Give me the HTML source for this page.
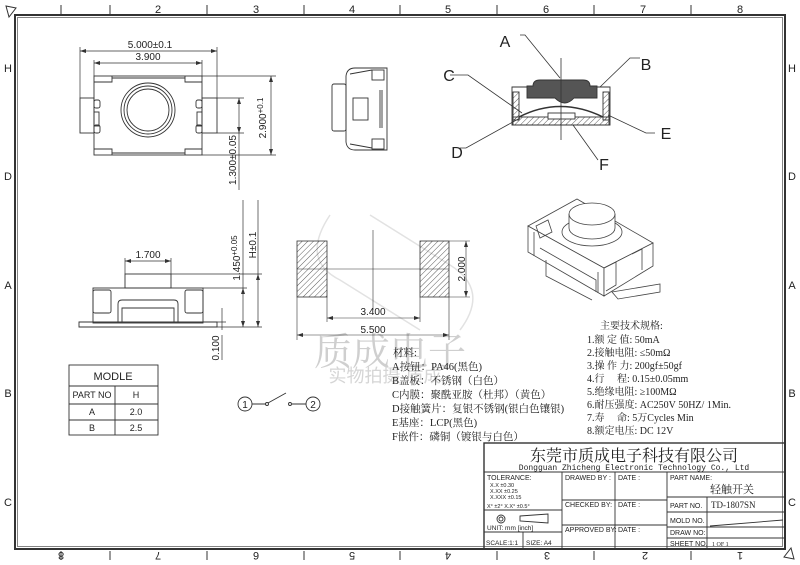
<!DOCTYPE html>
<html><head><meta charset="utf-8"><style>
html,body{margin:0;padding:0;background:#fff}
svg{display:block}
text{font-family:"Liberation Sans","Noto Sans CJK SC",sans-serif;fill:#222}
.s{font-family:"Liberation Serif","Noto Serif CJK SC",serif}
</style></head><body>
<svg width="800" height="565" viewBox="0 0 800 565" xmlns="http://www.w3.org/2000/svg">
<g stroke="#333" fill="none" stroke-width="1">
<rect x="15" y="15" width="770" height="534" stroke-width="2"/>
<rect x="17.5" y="17.5" width="765" height="529" stroke-width="0.6"/>
<g stroke-width="1">
<path d="M61 5V14M110 5V14M207 5V14M304 5V14M400 5V14M497 5V14M594 5V14M691 5V14"/>
<path d="M61 551V560M110 551V560M207 551V560M304 551V560M400 551V560M497 551V560M594 551V560M691 551V560"/>
</g>
<path d="M6 6L16 8L9 17Z"/>
<path d="M794 559L784 557L791 548Z"/>
</g>
<g font-size="11" text-anchor="middle">
<text x="158" y="13">2</text><text x="256" y="13">3</text><text x="352" y="13">4</text><text x="448" y="13">5</text><text x="546" y="13">6</text><text x="643" y="13">7</text><text x="740" y="13">8</text>
<g transform="rotate(180 400 556)"><text x="739" y="560">8</text><text x="642" y="560">7</text><text x="544" y="560">6</text><text x="448" y="560">5</text><text x="352" y="560">4</text><text x="253" y="560">3</text><text x="155" y="560">2</text><text x="60" y="560">1</text></g>
<text x="8" y="72">H</text><text x="8" y="180">D</text><text x="8" y="289">A</text><text x="8" y="397">B</text><text x="8" y="506">C</text>
<text x="792" y="72">H</text><text x="792" y="180">D</text><text x="792" y="289">A</text><text x="792" y="397">B</text><text x="792" y="506">C</text>
</g>

<g fill="none" stroke="#e2e2e2" stroke-width="1.5">
<path d="M330 215 Q300 260 340 280 L420 330"/><path d="M370 215 L450 265 Q490 290 460 330"/>
</g>
<text x="390" y="365" font-size="38" text-anchor="middle" style="fill:#cfcfcf" class="s">质成电子</text>
<text x="385" y="382" font-size="18" text-anchor="middle" style="fill:#d5d5d5">实物拍摄  质成</text>

<g stroke="#333" fill="none" stroke-width="0.9">
<rect x="94" y="76" width="108" height="79"/>
<rect x="80" y="98" width="14" height="35"/><rect x="202" y="98" width="15" height="35"/>
<path d="M94 82H112V76M185 76V82H202M94 149H112V155M185 155V149H202"/>
<path d="M112 78H185M112 153H185"/>
<rect x="94" y="100" width="6" height="8" rx="2"/><rect x="94" y="112" width="5" height="14"/><rect x="94" y="125" width="6" height="8" rx="2"/>
<rect x="196" y="100" width="6" height="8" rx="2"/><rect x="197" y="112" width="5" height="14"/><rect x="196" y="125" width="6" height="8" rx="2"/>
<circle cx="148" cy="110" r="27"/><circle cx="148" cy="110" r="24"/><circle cx="148" cy="110" r="21"/>
<path d="M80 98V47M217 98V47M80 51H217M94 76V60M202 76V60M94 63H202" stroke-width="0.7"/>
<path d="M202 76H276M217 98H244M202 155H276M217 133H244M271 76V155M239 98V190" stroke-width="0.7"/>
</g>
<g fill="#333">
<path d="M80 51l6-2v4zM217 51l-6-2v4zM94 63l6-2v4zM202 63l-6-2v4zM271 76l-2 6h4zM271 155l-2-6h4zM239 98l-2 6h4zM239 133l-2-6h4z"/>
</g>
<g font-size="10" text-anchor="middle">
<text x="150" y="48">5.000±0.1</text><text x="148" y="60">3.900</text>
<text transform="translate(266 118) rotate(-90)">2.900<tspan font-size="8" dy="-3">+0.1</tspan></text>
<text transform="translate(236 160) rotate(-90)">1.300±0.05</text>
</g>

<g stroke="#333" fill="none" stroke-width="0.9">
<path d="M355 68H387V150H355Q347 150 346 142V76Q347 68 355 68Z"/>
<path d="M350 74L372 70M350 144L372 148"/>
<rect x="332" y="84" width="14" height="47" rx="2"/>
<rect x="353" y="98" width="15" height="22"/>
<rect x="372" y="70" width="12" height="10"/><rect x="372" y="139" width="12" height="10"/>
<path d="M382 90V128M380 90V128"/>
</g>

<defs>
<pattern id="h" width="4" height="4" patternUnits="userSpaceOnUse" patternTransform="rotate(45)"><path d="M0 0V4" stroke="#333" stroke-width="0.8"/></pattern>
</defs>
<g stroke="#333" stroke-width="0.9">
<path d="M512 87H610V125H512Z" fill="none"/>
<rect x="513" y="92" width="6" height="28" fill="url(#h)"/>
<rect x="603" y="92" width="6" height="28" fill="url(#h)"/>
<rect x="513" y="117" width="96" height="8" fill="url(#h)"/>
<path d="M533 86Q533 80 540 80H583Q590 80 590 86H597V98H574Q565 108 555 98H527V86Z" fill="#555"/>
<path d="M519 117Q560 96 603 117" fill="none" stroke-width="1.4"/>
<rect x="548" y="113" width="27" height="6" fill="#fff"/>
<path d="M561 58V140M520 35L525 35L560 78M640 58H630L600 87M450 75H468L522 113M655 133H646L608 115M460 148H466L520 118M598 160L573 125" fill="none" stroke-width="0.8"/>
</g>
<g font-size="16" text-anchor="middle">
<text x="505" y="47">A</text><text x="646" y="70">B</text><text x="449" y="81">C</text><text x="666" y="139">E</text><text x="457" y="158">D</text><text x="604" y="170">F</text>
</g>

<!-- 3D -->
<g stroke="#444" fill="#fff" stroke-width="0.8">
<path d="M528 226L577 199L653 243L604 268Z"/>
<path d="M528 226V252L604 296V268Z"/>
<path d="M604 268L653 243V266L604 296Z"/>
<path d="M534 232V256M598 272V293M540 248L596 280V292M546 260V276L592 300M612 292L660 284V292L618 299Z" fill="none"/>
<path d="M536 226L548 220L552 232L540 238Z" fill="none"/>
<path d="M604 268L616 262V285L606 291" fill="none"/>
<path d="M632 254L642 249V270" fill="none"/>
<ellipse cx="592" cy="232" rx="30" ry="14" fill="none"/>
<path d="M569 214V228A23 11 0 0 0 615 228V214"/>
<ellipse cx="592" cy="214" rx="23" ry="11"/>
</g>

<g stroke="#333" fill="none" stroke-width="0.9">
<rect x="125" y="274" width="46" height="14"/>
<rect x="93" y="288" width="110" height="35"/>
<rect x="93" y="290" width="18" height="23" rx="2"/><rect x="185" y="290" width="18" height="23" rx="2"/>
<path d="M122 322V308H174V322M118 322V304Q118 300 122 300H174Q178 300 178 304V322"/>
<path d="M79 322H217V327H79Z"/>
<path d="M125 274V258M171 274V258M125 261H171" stroke-width="0.7"/>
<path d="M171 274H262M203 288H247M217 327H262M243 200V327M258 200V327M217 322H226M222 308V330M222 335V360" stroke-width="0.7"/>
</g>
<g fill="#333"><path d="M125 261l6-2v4zM171 261l-6-2v4zM243 288l-2 6h4zM243 327l-2-6h4zM258 274l-2 6h4zM258 327l-2-6h4z"/></g>
<g font-size="10" text-anchor="middle">
<text x="148" y="258">1.700</text>
<text transform="translate(240 258) rotate(-90)">1.450<tspan font-size="8" dy="-3">+0.05</tspan></text>
<text transform="translate(256 245) rotate(-90)">H±0.1</text>
<text transform="translate(219 348) rotate(-90)">0.100</text>
</g>

<g stroke="#333" fill="none" stroke-width="0.9">
<rect x="69" y="365" width="89" height="70"/>
<path d="M69 386H158M69 404H158M69 420H158M115 386V435"/>
</g>
<g font-size="9" text-anchor="middle" font-family="Liberation Mono">
<text x="113" y="380" font-size="11">MODLE</text>
<text x="92" y="398">PART NO</text><text x="136" y="398">H</text>
<text x="92" y="415">A</text><text x="136" y="415">2.0</text>
<text x="92" y="431">B</text><text x="136" y="431">2.5</text>
</g>

<g stroke="#333" stroke-width="0.8">
<rect x="297" y="241" width="30" height="56" fill="url(#h)"/>
<rect x="420" y="241" width="29" height="56" fill="url(#h)"/>
<path d="M297 269H449M373 230V310M327 297V322M420 297V322M297 297V340M449 297V340M327 318H420M297 335H449M449 241H470M449 297H470M466 241V297" fill="none" stroke-width="0.6"/>
</g>
<g fill="#333"><path d="M327 318l6-2v4zM420 318l-6-2v4zM297 335l6-2v4zM449 335l-6-2v4zM466 241l-2 6h4zM466 297l-2-6h4z"/></g>
<g font-size="10" text-anchor="middle">
<text x="373" y="315">3.400</text><text x="373" y="333">5.500</text>
<text transform="translate(465 269) rotate(-90)">2.000</text>
</g>

<g stroke="#333" fill="none" stroke-width="0.9">
<circle cx="245" cy="404" r="7"/><circle cx="313" cy="404" r="7"/>
<path d="M252 404H266M292 404H306M268 403L286 393"/>
<circle cx="267" cy="404" r="1.5"/><circle cx="290" cy="404" r="1.5"/>
</g>
<g font-size="10" text-anchor="middle"><text x="245" y="408">1</text><text x="313" y="408">2</text></g>

<g font-size="10.5" class="s">
<text x="393" y="356" class="s">材料:</text>
<text x="392" y="370" class="s">A按钮：PA46(黑色)</text>
<text x="392" y="384" class="s">B盖板：不锈钢（白色）</text>
<text x="392" y="398" class="s">C内膜：聚酰亚胺（杜邦）（黄色）</text>
<text x="392" y="412" class="s">D接触簧片：复银不锈钢(银白色镶银)</text>
<text x="392" y="426" class="s">E基座：LCP(黑色)</text>
<text x="392" y="440" class="s">F嵌件：磷铜（镀银与白色）</text>
</g>
<g font-size="10" class="s">
<text x="600" y="329" class="s">主要技术规格:</text>
<text x="587" y="343" class="s">1.额 定 值: 50mA</text>
<text x="587" y="356" class="s">2.接触电阻: ≤50mΩ</text>
<text x="587" y="369" class="s">3.操 作 力: 200gf±50gf</text>
<text x="587" y="382" class="s">4.行　 程: 0.15±0.05mm</text>
<text x="587" y="395" class="s">5.绝缘电阻: ≥100MΩ</text>
<text x="587" y="408" class="s">6.耐压强度: AC250V 50HZ/ 1Min.</text>
<text x="587" y="421" class="s">7.寿　 命: 5万Cycles Min</text>
<text x="587" y="434" class="s">8.额定电压: DC 12V</text>
</g>

<g stroke="#333" fill="none" stroke-width="0.9">
<rect x="484" y="443" width="301" height="106" stroke-width="1.4"/>
<path d="M484 472H785M562 472V549M615 472V549M667 472V549M707 497V549"/>
<path d="M484 510H562M484 532H562M523 532V549M562 500H667M562 525H667M667 497H785M667 512H785M667 527H785M667 538H785"/>
<path d="M710 526L783 520"/>
<circle cx="501" cy="519" r="4"/><circle cx="501" cy="519" r="2"/>
<path d="M520 516L548 514V523L520 521Z"/>
</g>
<g font-size="7">
<text x="634" y="461" font-size="16" text-anchor="middle" class="s">东莞市质成电子科技有限公司</text>
<text x="634" y="470" font-size="8" text-anchor="middle" style="font-family:'Liberation Mono',monospace">Dongguan Zhicheng Electronic Technology Co., Ltd</text>
<text x="487" y="480">TOLERANCE:</text>
<text x="490" y="487" font-size="5.5">X.X    ±0.30</text>
<text x="490" y="493" font-size="5.5">X.XX   ±0.25</text>
<text x="490" y="499" font-size="5.5">X.XXX ±0.15</text>
<text x="487" y="508" font-size="5.5">X° ±2°     X.X° ±0.5°</text>
<text x="487" y="530" font-size="6.5">UNIT: mm [inch]</text>
<text x="486" y="545" font-size="6.5">SCALE:1:1</text><text x="526" y="545" font-size="6.5">SIZE: A4</text>
<text x="565" y="480">DRAWED BY :</text><text x="618" y="480">DATE :</text>
<text x="565" y="507">CHECKED BY:</text><text x="618" y="507">DATE :</text>
<text x="565" y="532">APPROVED BY:</text><text x="618" y="532">DATE :</text>
<text x="670" y="480">PART NAME:</text>
<text x="710" y="493" font-size="11" class="s">轻触开关</text>
<text x="670" y="508">PART NO.</text><text x="711" y="508" font-size="9" class="s">TD-1807SN</text>
<text x="670" y="523">MOLD NO.</text>
<text x="670" y="535">DRAW NO:</text>
<text x="670" y="546">SHEET NO.</text><text x="712" y="546" font-size="6" class="s">1 OF 1</text>
</g>
</svg>
</body></html>
